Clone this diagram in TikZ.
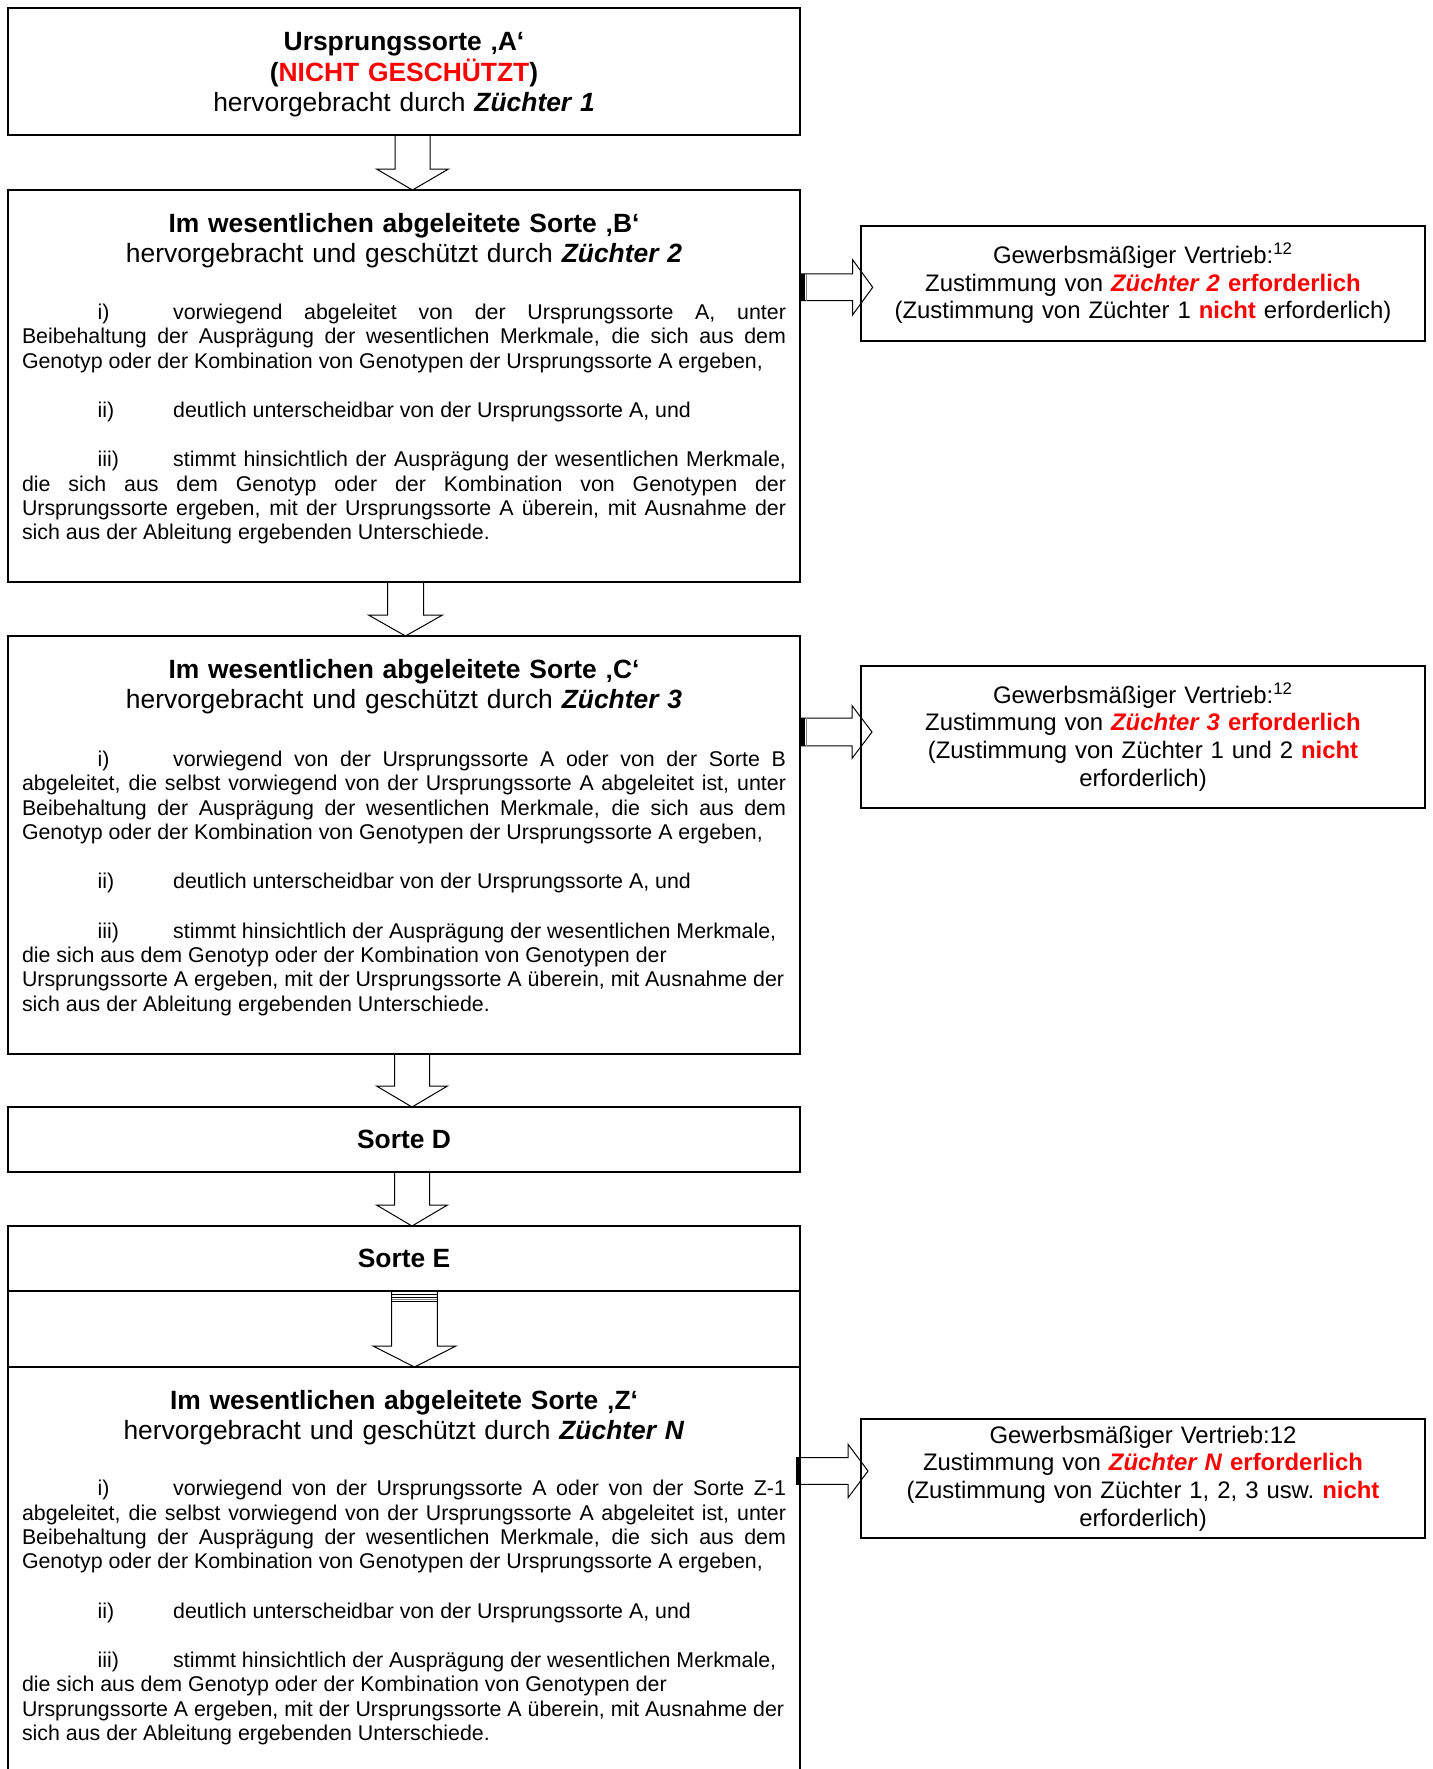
\documentclass[tikz,border=0pt]{standalone}
\usepackage{fontspec}
\setmainfont{Liberation Sans}
\usetikzlibrary{positioning,calc}

\definecolor{warnred}{RGB}{255,0,0}

\newcommand\titlefont{\fontsize{13.2pt}{15.25pt}\selectfont}
\newcommand\bodyfont{\fontsize{10.68pt}{12.17pt}\selectfont\parindent=0pt\parskip=12.5pt\hbadness=10000\tolerance=9999}
\newcommand\notefont{\fontsize{11.95pt}{13.8pt}\selectfont\frenchspacing}
\newcommand\zuechter[1]{\textbf{\textit{Züchter #1}}}
\newcommand\itemlabel[1]{\hspace*{37.8pt}\makebox[37.8pt][l]{#1}}

\tikzset{
  mainbox/.style={draw, line width=0.8pt, minimum width=396pt, inner sep=0pt, outer sep=0pt},
  notebox/.style={draw, line width=0.8pt, minimum width=282pt, text width=276pt, align=center, inner sep=0pt, outer sep=0pt, font=\notefont},
  titletext/.style={text width=382pt, align=center, inner sep=0pt, font=\titlefont},
  bodytext/.style={text width=382pt, align=justify, inner sep=0pt, font=\bodyfont},
  fatdown/.style 2 args={draw, line width=0.5pt, to path={
    let \p1=(\tikztostart), \p2=(\tikztotarget) in
    (\x1-#1,\y1) -- (\x1-#1,\y2+10.5pt) -- (\x1-#2,\y2+10.5pt) -- (\x1,\y2)
    -- (\x1+#2,\y2+10.5pt) -- (\x1+#1,\y2+10.5pt) -- (\x1+#1,\y1)}},
  fatright/.style 2 args={draw, line width=0.5pt, to path={
    let \p1=(\tikztostart), \p2=(\tikztotarget) in
    (\x1,\y1+#1) -- (\x2-10pt,\y1+#1) -- (\x2-10pt,\y1+#2) -- (\x2,\y1)
    -- (\x2-10pt,\y1-#2) -- (\x2-10pt,\y1-#1) -- (\x1,\y1-#1)}},
}

\begin{document}
\begin{tikzpicture}[x=0.5pt, y=-0.5pt]
\useasboundingbox (0,0) rectangle (1432,1769);

\node[mainbox, minimum height=63.5pt] (A) at (404,71.5) {};
\node[titletext, anchor=base] (Atitle) at ([yshift=-21.25pt]A.north)
  {\textbf{Ursprungssorte ‚A‘}\\\textbf{(}{\color{warnred}\textbf{NICHT GESCHÜTZT}}\textbf{)}\\hervorgebracht durch \zuechter{1}};

\node[mainbox, minimum height=196pt, below=27.5pt of A] (B) {};
\node[titletext, anchor=base] (Btitle) at ([yshift=-21pt]B.north)
  {\textbf{Im wesentlichen abgeleitete Sorte ‚B‘}\\hervorgebracht und geschützt durch \zuechter{2}};
\node[bodytext, anchor=base] (Bbody) at ([yshift=-64.8pt]B.north) {%
\itemlabel{i)}vorwiegend abgeleitet von der Ursprungssorte A, unter\linebreak
Beibehaltung der Ausprägung der wesentlichen Merkmale, die sich aus dem\linebreak
Genotyp oder der Kombination von Genotypen der Ursprungssorte A ergeben,\par
\itemlabel{ii)}deutlich unterscheidbar von der Ursprungssorte A, und\par
\itemlabel{iii)}stimmt hinsichtlich der Ausprägung der wesentlichen Merkmale,\linebreak
die sich aus dem Genotyp oder der Kombination von Genotypen der\linebreak
Ursprungssorte ergeben, mit der Ursprungssorte A überein, mit Ausnahme der\linebreak
sich aus der Ableitung ergebenden Unterschiede.};

\node[notebox, minimum height=57.5pt, below right=18pt and 30.5pt of B.north east] (Bnote)
  {Gewerbsmäßiger Vertrieb:\textsuperscript{12}\\Zustimmung von {\color{warnred}\zuechter{2} \textbf{erforderlich}}\\(Zustimmung von Züchter 1 {\color{warnred}\textbf{nicht}} erforderlich)};

\node[mainbox, minimum height=209pt, below=27pt of B] (C) {};
\node[titletext, anchor=base] (Ctitle) at ([yshift=-21pt]C.north)
  {\textbf{Im wesentlichen abgeleitete Sorte ‚C‘}\\hervorgebracht und geschützt durch \zuechter{3}};
\node[bodytext, anchor=base] (Cbody) at ([yshift=-65.2pt]C.north) {%
\itemlabel{i)}vorwiegend von der Ursprungssorte A oder von der Sorte B\linebreak
abgeleitet, die selbst vorwiegend von der Ursprungssorte A abgeleitet ist, unter\linebreak
Beibehaltung der Ausprägung der wesentlichen Merkmale, die sich aus dem\linebreak
Genotyp oder der Kombination von Genotypen der Ursprungssorte A ergeben,\par
\itemlabel{ii)}deutlich unterscheidbar von der Ursprungssorte A, und\par
{\raggedright\itemlabel{iii)}stimmt hinsichtlich der Ausprägung der wesentlichen Merkmale,\\
die sich aus dem Genotyp oder der Kombination von Genotypen der\\
Ursprungssorte A ergeben, mit der Ursprungssorte A überein, mit Ausnahme der\\
sich aus der Ableitung ergebenden Unterschiede.\par}};

\node[notebox, minimum height=71pt, below right=15pt and 30.5pt of C.north east] (Cnote)
  {Gewerbsmäßiger Vertrieb:\textsuperscript{12}\\Zustimmung von {\color{warnred}\zuechter{3} \textbf{erforderlich}}\\(Zustimmung von Züchter 1 und 2 {\color{warnred}\textbf{nicht}}\\erforderlich)};

\node[mainbox, minimum height=32.5pt, font=\titlefont, below=26.5pt of C] (D) {\textbf{Sorte D}};
\node[mainbox, minimum height=32.5pt, font=\titlefont, below=27pt of D] (E) {\textbf{Sorte E}};
\node[mainbox, minimum height=38pt, below=0pt of E] (Egap) {};

\node[mainbox, minimum height=215pt, below=0pt of Egap] (Z) {};
\node[titletext, anchor=base] (Ztitle) at ([yshift=-21pt]Z.north)
  {\textbf{Im wesentlichen abgeleitete Sorte ‚Z‘}\\hervorgebracht und geschützt durch \zuechter{N}};
\node[bodytext, anchor=base] (Zbody) at ([yshift=-64.4pt]Z.north) {%
\itemlabel{i)}vorwiegend von der Ursprungssorte A oder von der Sorte Z-1\linebreak
abgeleitet, die selbst vorwiegend von der Ursprungssorte A abgeleitet ist, unter\linebreak
Beibehaltung der Ausprägung der wesentlichen Merkmale, die sich aus dem\linebreak
Genotyp oder der Kombination von Genotypen der Ursprungssorte A ergeben,\par
\itemlabel{ii)}deutlich unterscheidbar von der Ursprungssorte A, und\par
{\raggedright\itemlabel{iii)}stimmt hinsichtlich der Ausprägung der wesentlichen Merkmale,\\
die sich aus dem Genotyp oder der Kombination von Genotypen der\\
Ursprungssorte A ergeben, mit der Ursprungssorte A überein, mit Ausnahme der\\
sich aus der Ableitung ergebenden Unterschiede.\par}};

\node[notebox, minimum height=59.5pt, below right=26pt and 30.5pt of Z.north east] (Znote)
  {Gewerbsmäßiger Vertrieb:12\\Zustimmung von {\color{warnred}\zuechter{N} \textbf{erforderlich}}\\(Zustimmung von Züchter 1, 2, 3 usw. {\color{warnred}\textbf{nicht}}\\erforderlich)};

\draw[fatdown={8.75pt}{18pt}] ([xshift=4.25pt]A.south) to ([xshift=4.25pt]B.north);
\draw[fatdown={9pt}{18.5pt}] ([xshift=0.75pt]B.south) to ([xshift=0.75pt]C.north);
\draw[fatdown={8.75pt}{17.75pt}] ([xshift=4pt]C.south) to ([xshift=4pt]D.north);
\draw[fatdown={8.75pt}{17.75pt}] ([xshift=4pt]D.south) to ([xshift=4pt]E.north);
\draw[fatdown={11.4pt}{20.75pt}] ([xshift=5.25pt]E.south) to ([xshift=5.25pt]Z.north);
\foreach \dy in {1.5pt,3pt,5pt}
  \draw[line width=0.5pt] ($(E.south)+(-6.15pt,-\dy)$) -- ++(22.8pt,0);
\draw[line width=0.5pt, gray] ($(E.south)+(-6.15pt,-4pt)$) -- ++(22.8pt,0);

\draw[fatright={6.7pt}{13.75pt}] ($(Bnote.west -| B.east)+(0,-1.9pt)$) to ($(Bnote.west)+(5.85pt,-1.9pt)$);
\draw[fatright={6.9pt}{13.2pt}] ($(Cnote.west -| C.east)+(0,2.5pt)$) to ($(Cnote.west)+(5.5pt,2.5pt)$);
\draw[fatright={6.7pt}{13.4pt}] ($(Znote.west -| Z.east)+(-2pt,3.75pt)$) to ($(Znote.west)+(3.5pt,3.75pt)$);
\fill ($(Bnote.west -| B.east)+(0,-8.6pt)$) rectangle ++(2.4pt,13.4pt);
\fill ($(Cnote.west -| C.east)+(0,-4.4pt)$) rectangle ++(2.4pt,13.8pt);
\fill ($(Znote.west -| Z.east)+(-2pt,-2.95pt)$) rectangle ++(2.4pt,13.4pt);
\draw[gray, line width=0.5pt] ($(Bnote.west -| B.east)+(3.2pt,-8.6pt)$) -- ++(0,13.4pt);
\draw[gray, line width=0.5pt] ($(Cnote.west -| C.east)+(3.2pt,-4.4pt)$) -- ++(0,13.8pt);
\end{tikzpicture}
\end{document}
